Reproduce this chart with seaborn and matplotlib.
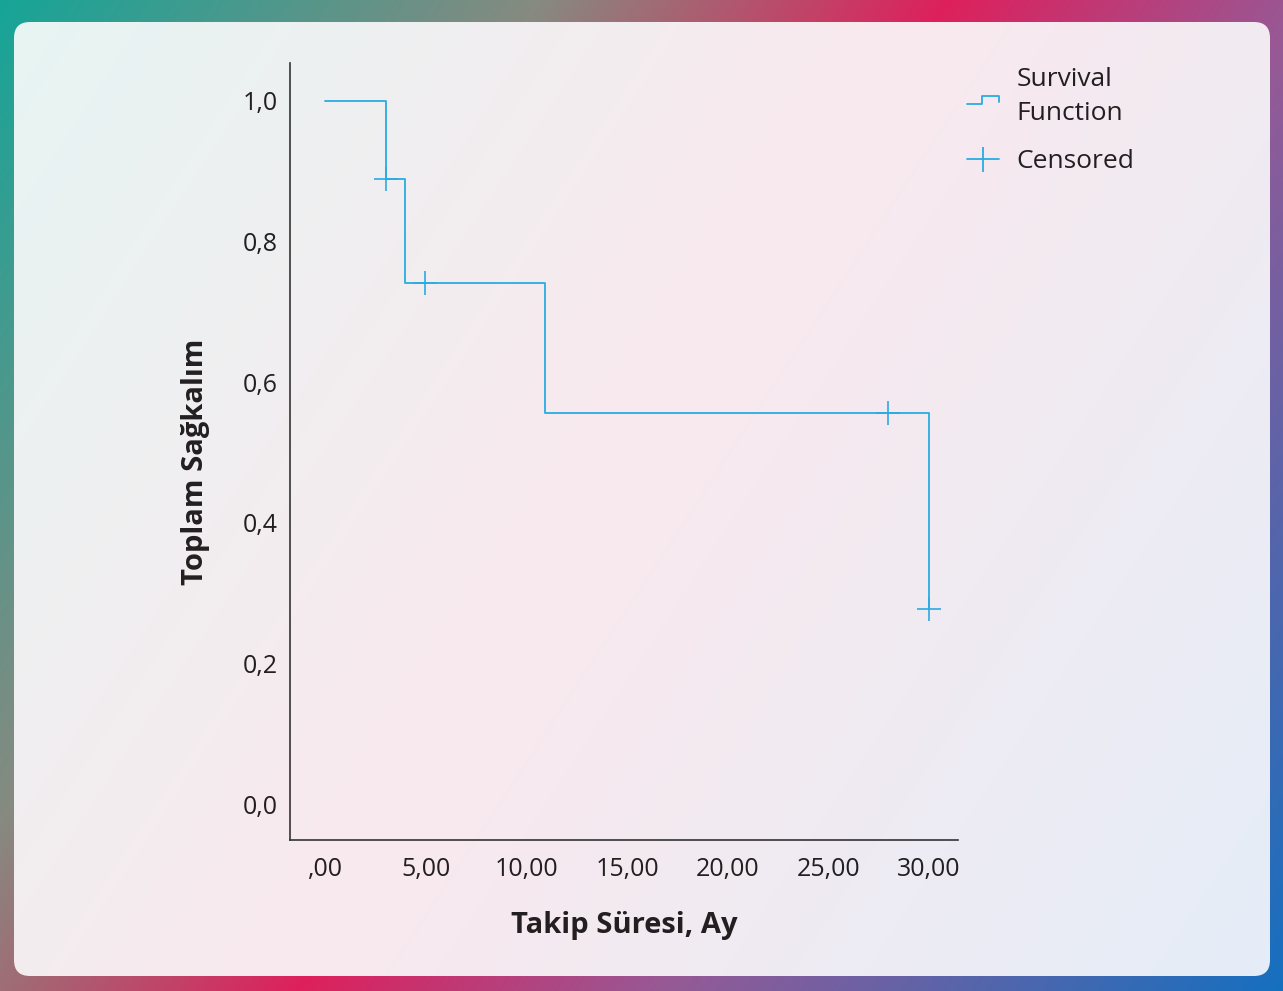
import numpy as np
import matplotlib
matplotlib.use("Agg")
import matplotlib.pyplot as plt
import seaborn as sns
from matplotlib.patches import FancyBboxPatch
from matplotlib.lines import Line2D
from matplotlib.legend_handler import HandlerBase
import pandas as pd

# ---- data ----
step_times = [0.0, 3.03, 3.97, 10.93, 30.0]
survival = [1.0, 0.889, 0.741, 0.556, 0.278]
censor_times = [3.03, 4.97, 27.97, 30.0]
censor_surv = [0.889, 0.741, 0.556, 0.278]
xticks = [0, 5, 10, 15, 20, 25, 30]
xticklabels = [",00", "5,00", "10,00", "15,00", "20,00", "25,00", "30,00"]
yticks = [0.0, 0.2, 0.4, 0.6, 0.8, 1.0]
yticklabels = ["0,0", "0,2", "0,4", "0,6", "0,8", "1,0"]
xlabel = "Takip Süresi, Ay"
ylabel = "Toplam Sağkalım"
legend_labels = ["Survival\nFunction", "Censored"]

sns.set_theme(style="white")
fonts = ["Open Sans", "DejaVu Sans"]
plt.rcParams["font.family"] = fonts
TXT = "#231f20"
LINE = "#29abe2"

W, H = 1283, 991
fig = plt.figure(figsize=(W / 100, H / 100), dpi=100)

# ---- background ----
bg = fig.add_axes([0, 0, 1, 1])
bg.set_xlim(0, W)
bg.set_ylim(H, 0)
bg.axis("off")
yy, xx = np.mgrid[0:H, 0:W]
t = (xx + 0.656 * yy) / (W + 0.656 * H)

def grad(stops, cols):
    cols = np.array(cols) / 255.0
    img = np.zeros(t.shape + (3,))
    for c in range(3):
        img[..., c] = np.interp(t, stops, cols[:, c])
    return img

outer = grad([0, 0.28, 0.49, 0.68, 1.0],
             [(22, 165, 152), (135, 138, 128), (222, 32, 92), (150, 90, 150), (20, 112, 192)])
bg.imshow(outer, extent=(0, W, H, 0), aspect="auto", zorder=0)
panel = FancyBboxPatch((14 + 16, 22 + 16), 1256 - 32, 954 - 32,
                       boxstyle="round,pad=16", transform=bg.transData,
                       facecolor="none", edgecolor="none", zorder=1)
bg.add_patch(panel)
inner = grad([0, 0.48, 1.0], [(230, 245, 243), (249, 233, 238), (228, 237, 248)])
im = bg.imshow(inner, extent=(0, W, H, 0), aspect="auto", zorder=2)
im.set_clip_path(panel)

# ---- main axes ----
ax = fig.add_axes([290 / W, 1 - 840 / H, (958 - 290) / W, (840 - 63) / H])
ax.set_facecolor("none")
df = pd.DataFrame({"t": step_times, "s": survival})
sns.lineplot(data=df, x="t", y="s", drawstyle="steps-post", color=LINE,
             linewidth=1.3, ax=ax, zorder=3)
cdf = pd.DataFrame({"t": censor_times, "s": censor_surv})
sns.scatterplot(data=cdf, x="t", y="s", marker="+", s=300, color=LINE,
                linewidth=1.2, ax=ax, zorder=4)

ax.set_xlim(-1.74, 31.44)
ax.set_ylim(-0.051, 1.054)
ax.set_xticks(xticks)
ax.set_xticklabels(xticklabels)
ax.set_yticks(yticks)
ax.set_yticklabels(yticklabels)
ax.tick_params(length=0, labelsize=18, colors=TXT)
ax.tick_params(axis="x", pad=12)
ax.tick_params(axis="y", pad=9)
for s in ["top", "right"]:
    ax.spines[s].set_visible(False)
for s in ["left", "bottom"]:
    ax.spines[s].set_color("#333333")
    ax.spines[s].set_linewidth(1.2)
ax.set_xlabel(xlabel, fontsize=21, fontweight="bold", color=TXT)
ax.set_ylabel(ylabel, fontsize=21, fontweight="bold", color=TXT)
ax.xaxis.set_label_coords(0.5, (840 - 925) / 777, transform=ax.transAxes)
ax.yaxis.set_label_coords((195 - 290) / 668, (840 - 462) / 777, transform=ax.transAxes)
ax.xaxis.label.set_va("center")
ax.yaxis.label.set_va("center")

# ---- legend ----
class StepHandler(HandlerBase):
    def create_artists(self, legend, orig_handle, xdescent, ydescent, width,
                       height, fontsize, trans):
        x0, x1 = -xdescent, -xdescent + width
        xm = x0 + width * 0.47
        y0 = -ydescent + height * 0.1
        y1 = -ydescent + height * 0.55
        ln = Line2D([x0, xm, xm, x1, x1], [y0, y0, y1, y1, y1 - height * 0.3],
                    color=LINE, lw=1.3, transform=trans)
        return [ln]

h1 = Line2D([], [], color=LINE)
h2 = Line2D([0], [0], color=LINE, lw=1.3, marker="|", markersize=18, mew=1.3)
leg = ax.legend([h1, h2], legend_labels, handler_map={h1: StepHandler()},
                loc="upper left", bbox_to_anchor=((967 - 290) / 668, 0.995),
                frameon=False, borderpad=0, borderaxespad=0,
                fontsize=19, handlelength=1.2, handletextpad=0.68,
                labelspacing=0.85)
for txt in leg.get_texts():
    txt.set_color(TXT)
    txt.set_linespacing(1.5)

fig.savefig("out.png", dpi=100)
